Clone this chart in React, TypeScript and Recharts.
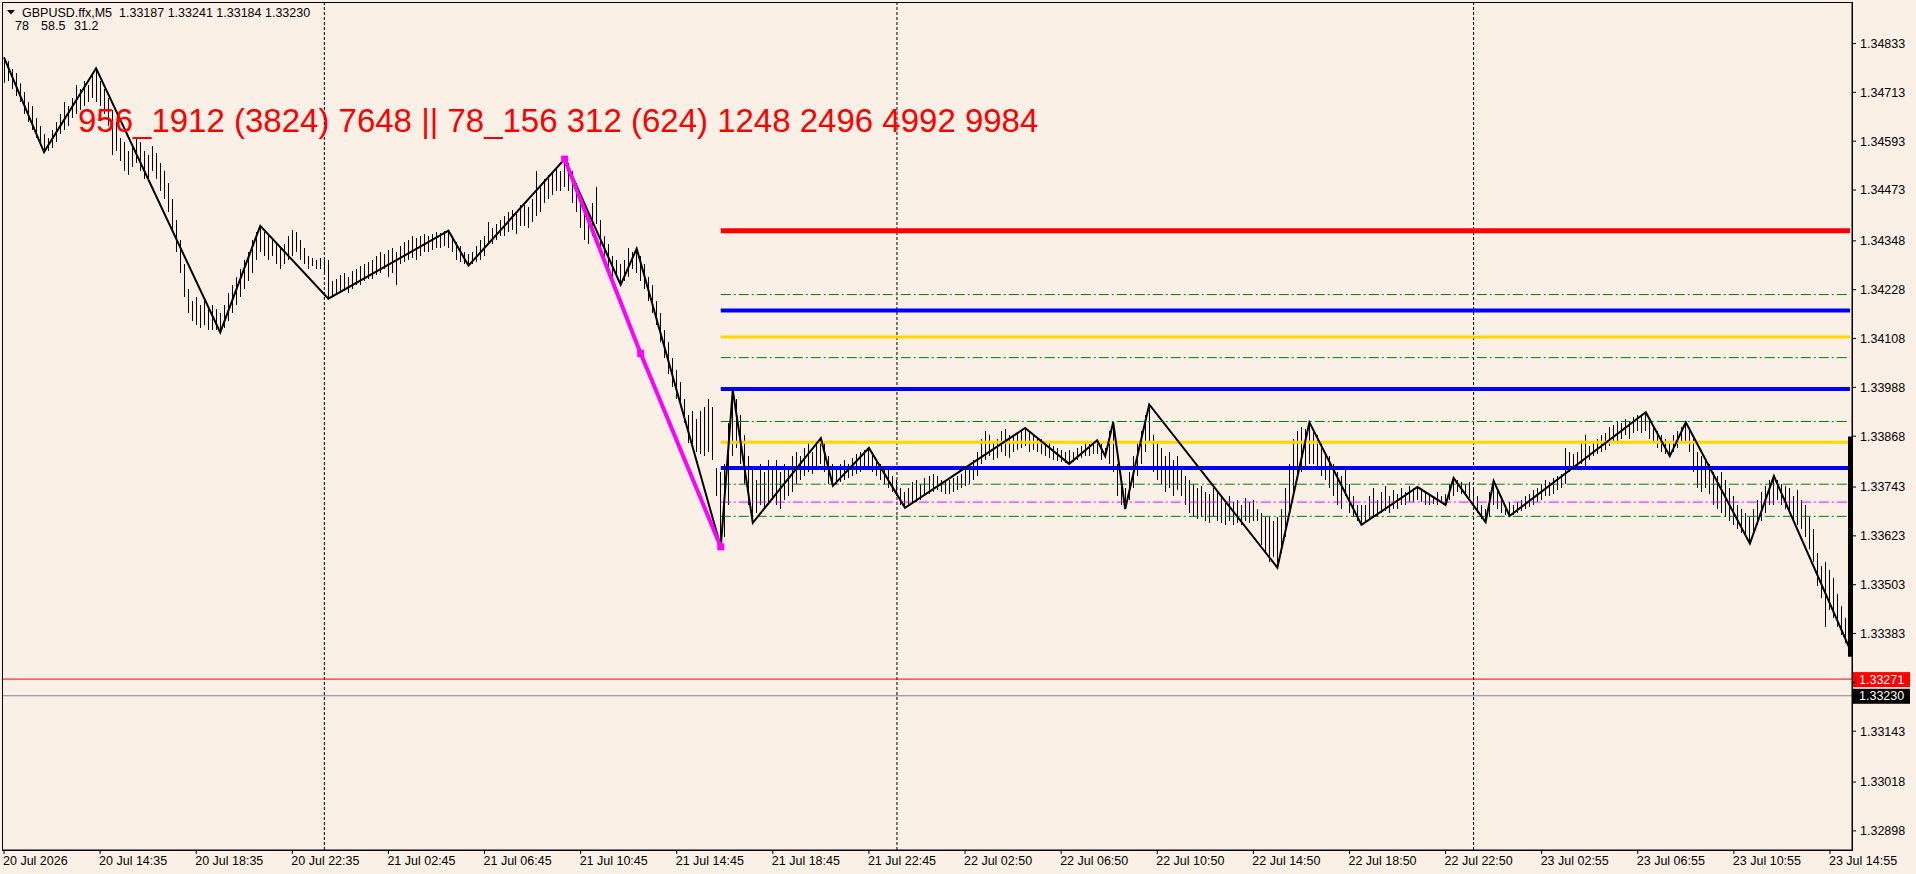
import React from "react";
import { ComposedChart, Bar, Line, XAxis, YAxis, ReferenceLine } from "recharts";

// prices are kept as points above 1.30000 (4833 -> 1.34833)
const BASE = 1.3;
const pt = (v: number) => BASE + v / 100000;

const timeLabels = [
  "20 Jul 2026", "20 Jul 14:35", "20 Jul 18:35", "20 Jul 22:35",
  "21 Jul 02:45", "21 Jul 06:45", "21 Jul 10:45", "21 Jul 14:45",
  "21 Jul 18:45", "21 Jul 22:45", "22 Jul 02:50", "22 Jul 06:50",
  "22 Jul 10:50", "22 Jul 14:50", "22 Jul 18:50", "22 Jul 22:50",
  "23 Jul 02:55", "23 Jul 06:55", "23 Jul 10:55", "23 Jul 14:55",
];
const BARS_PER_LABEL = 24;

const priceTicks = [
  4833, 4713, 4593, 4473, 4348, 4228, 4108, 3988, 3868, 3743, 3623, 3503,
  3383, 3263, 3143, 3018, 2898,
];
const hiddenTicks = [3263]; // covered by the price tags
const priceDomain = [2851, 4935];

// bar highs / lows, one bar per 10 minutes
const highs = [
  4799, 4790, 4770, 4760, 4735, 4715, 4690, 4680, 4650, 4630,
  4610, 4600, 4620, 4640, 4660, 4690, 4680, 4700, 4730, 4720,
  4740, 4730, 4755, 4772, 4740, 4720, 4700, 4670, 4640, 4600,
  4590, 4570, 4585, 4600, 4590, 4570, 4560, 4580, 4565, 4540,
  4520, 4490, 4450, 4400, 4350, 4290, 4230, 4200, 4210, 4190,
  4200, 4185, 4190, 4180, 4170, 4190, 4220, 4240, 4260, 4280,
  4300, 4320, 4350, 4370, 4385, 4370, 4360, 4350, 4340, 4330,
  4340, 4360, 4375, 4370, 4350, 4330, 4310, 4305, 4300, 4305,
  4300, 4300, 4250, 4255, 4265, 4270, 4260, 4275, 4280, 4285,
  4290, 4295, 4300, 4310, 4320, 4315, 4325, 4330, 4320, 4335,
  4345, 4350, 4360, 4355, 4360, 4365, 4360, 4365, 4370, 4368,
  4372, 4373, 4360, 4345, 4335, 4320, 4315, 4320, 4335, 4350,
  4360, 4395, 4380, 4390, 4400, 4410, 4420, 4425, 4415, 4435,
  4440, 4430, 4450, 4520, 4480, 4500, 4510, 4515, 4530, 4520,
  4549, 4540, 4520, 4490, 4460, 4430, 4420, 4440, 4480, 4400,
  4360, 4340, 4310, 4300, 4290, 4300, 4330, 4320, 4329, 4310,
  4290, 4260, 4240, 4200, 4170, 4130, 4100, 4060, 4030, 4000,
  3960, 3920, 3930, 3910, 3930, 3940, 3960, 3940, 3790, 3780,
  3800, 3900, 3981, 3960, 3920, 3870, 3820, 3790, 3760, 3800,
  3780, 3810, 3790, 3810, 3780, 3800, 3790, 3820, 3830, 3820,
  3840, 3850, 3830, 3855, 3863, 3850, 3820, 3800, 3790, 3800,
  3810, 3800, 3815, 3825, 3830, 3835, 3839, 3830, 3810, 3800,
  3795, 3790, 3770, 3760, 3740, 3730, 3740, 3755, 3760, 3750,
  3765, 3770, 3775, 3770, 3760, 3755, 3760, 3765, 3770, 3775,
  3785, 3795, 3810, 3830, 3860, 3880, 3870, 3850, 3860, 3880,
  3885, 3870, 3865, 3875, 3880, 3888, 3880, 3870, 3865, 3860,
  3855, 3850, 3845, 3840, 3835, 3830, 3835, 3830, 3840, 3845,
  3850, 3848, 3855, 3858, 3850, 3840, 3880, 3902, 3800, 3760,
  3740, 3780, 3820, 3850, 3880, 3920, 3946, 3870, 3850, 3840,
  3820, 3830, 3810, 3820, 3790, 3770, 3760, 3750, 3740, 3745,
  3730, 3725, 3740, 3735, 3720, 3710, 3720, 3705, 3710, 3700,
  3715, 3705, 3710, 3690, 3680, 3670, 3670, 3660, 3670, 3690,
  3740, 3800, 3860, 3880, 3890, 3885, 3902, 3880, 3870, 3850,
  3830, 3820, 3800, 3780, 3770, 3790, 3750, 3720, 3700, 3700,
  3700, 3720, 3740, 3710, 3730, 3745, 3720, 3735, 3725, 3740,
  3730, 3745, 3740, 3743, 3738, 3730, 3725, 3720, 3730, 3720,
  3725, 3750, 3765, 3760, 3755, 3750, 3755, 3740, 3720, 3700,
  3690, 3730, 3758, 3740, 3720, 3700, 3705, 3700, 3705, 3712,
  3720, 3725, 3735, 3740, 3750, 3760, 3755, 3765, 3770, 3775,
  3840, 3830, 3825, 3830, 3850, 3870, 3845, 3850, 3860, 3870,
  3875, 3890, 3895, 3905, 3900, 3910, 3905, 3915, 3920, 3918,
  3927, 3910, 3890, 3880, 3870, 3860, 3850, 3870, 3880, 3890,
  3902, 3890, 3860, 3830, 3820, 3810, 3800, 3780, 3770, 3780,
  3760, 3740, 3720, 3700, 3690, 3680, 3670, 3690, 3710, 3730,
  3745, 3760, 3770, 3760, 3750, 3745, 3740, 3720, 3735, 3710,
  3700, 3670, 3640, 3580, 3550, 3560, 3540, 3520, 3480, 3450,
  3420, 3400,
];

const lows = [
  4735, 4740, 4720, 4705, 4690, 4660, 4640, 4620, 4600, 4580,
  4566, 4570, 4575, 4590, 4610, 4620, 4630, 4650, 4660, 4670,
  4680, 4690, 4700, 4690, 4680, 4660, 4630, 4560, 4570, 4545,
  4520, 4510, 4530, 4540, 4520, 4500, 4495, 4520, 4500, 4470,
  4450, 4420, 4370, 4320, 4270, 4210, 4170, 4150, 4140, 4135,
  4140, 4130, 4128, 4130, 4123, 4135, 4150, 4170, 4190, 4210,
  4230, 4250, 4270, 4300, 4320, 4310, 4300, 4310, 4290, 4280,
  4290, 4300, 4310, 4320, 4300, 4290, 4280, 4285, 4280, 4280,
  4270, 4206, 4210, 4215, 4220, 4225, 4220, 4230, 4240, 4240,
  4250, 4255, 4255, 4265, 4270, 4280, 4260, 4270, 4240, 4290,
  4295, 4300, 4305, 4300, 4310, 4320, 4320, 4325, 4330, 4330,
  4335, 4330, 4320, 4300, 4295, 4292, 4287, 4290, 4295, 4300,
  4310, 4340, 4340, 4350, 4360, 4360, 4370, 4375, 4365, 4385,
  4385, 4380, 4395, 4410, 4420, 4440, 4450, 4460, 4470, 4470,
  4480, 4470, 4440, 4420, 4380, 4350, 4340, 4360, 4390, 4320,
  4290, 4270, 4250, 4260, 4240, 4250, 4260, 4280, 4270, 4250,
  4230, 4200, 4170, 4140, 4100, 4060, 4020, 3990, 3960, 3940,
  3900, 3850, 3840, 3830, 3825, 3820, 3830, 3810, 3720, 3596,
  3620, 3700, 3820, 3840, 3800, 3750, 3700, 3655, 3680, 3700,
  3690, 3700, 3710, 3700, 3690, 3710, 3720, 3730, 3750, 3760,
  3770, 3780, 3775, 3790, 3800, 3780, 3750, 3746, 3750, 3755,
  3760, 3765, 3770, 3775, 3780, 3790, 3790, 3780, 3770, 3760,
  3750, 3740, 3730, 3720, 3700, 3692, 3700, 3705, 3705, 3710,
  3720, 3725, 3730, 3735, 3730, 3725, 3725, 3730, 3735, 3740,
  3745, 3750, 3760, 3770, 3800, 3810, 3820, 3810, 3815, 3830,
  3820, 3815, 3830, 3835, 3840, 3845, 3830, 3835, 3830, 3825,
  3820, 3815, 3810, 3808, 3805, 3802, 3800, 3805, 3810, 3815,
  3820, 3820, 3825, 3825, 3810, 3819, 3800, 3780, 3720, 3700,
  3689, 3710, 3740, 3770, 3800, 3830, 3850, 3780, 3760, 3750,
  3730, 3740, 3720, 3735, 3720, 3700, 3680, 3670, 3665, 3670,
  3660, 3655, 3670, 3660, 3655, 3650, 3660, 3650, 3655, 3650,
  3660, 3655, 3660, 3660, 3600, 3580, 3560, 3570, 3545, 3580,
  3620, 3680, 3720, 3760, 3780, 3790, 3800, 3800, 3790, 3770,
  3760, 3740, 3720, 3700, 3690, 3720, 3680, 3670, 3660, 3650,
  3660, 3665, 3670, 3670, 3680, 3685, 3680, 3690, 3690, 3700,
  3700, 3705, 3705, 3710, 3705, 3700, 3700, 3702, 3700, 3705,
  3699, 3710, 3720, 3730, 3725, 3720, 3715, 3700, 3680, 3665,
  3657, 3670, 3700, 3690, 3680, 3675, 3672, 3675, 3680, 3685,
  3690, 3695, 3700, 3705, 3712, 3720, 3720, 3725, 3735, 3740,
  3750, 3780, 3790, 3795, 3800, 3795, 3810, 3820, 3825, 3830,
  3835, 3845, 3850, 3855, 3860, 3870, 3860, 3875, 3880, 3875,
  3880, 3860, 3850, 3840, 3830, 3825, 3819, 3830, 3840, 3850,
  3855, 3830, 3780, 3740, 3730, 3740, 3725, 3700, 3690, 3680,
  3670, 3660, 3650, 3640, 3630, 3620, 3604, 3630, 3650, 3660,
  3680, 3700, 3700, 3710, 3700, 3690, 3680, 3660, 3650, 3640,
  3620, 3590, 3560, 3500, 3470, 3400, 3440, 3420, 3400, 3380,
  3360, 3344,
];

// zigzag turning points (bar index, price)
const zigzagIdx = [
  0, 10, 23, 54, 64, 81, 111, 116, 140, 154, 158, 179, 182, 187, 204, 207,
  216, 225, 255, 266, 273, 275, 277, 280, 286, 318, 326, 339, 353, 360, 362,
  370, 372, 376, 410, 416, 420, 436, 442, 461,
];
const zigzagVal = [
  4799, 4566, 4772, 4123, 4385, 4206, 4373, 4287, 4549, 4240, 4329, 3596,
  3981, 3655, 3863, 3746, 3839, 3692, 3888, 3800, 3858, 3819, 3902, 3689,
  3946, 3545, 3902, 3650, 3743, 3699, 3765, 3657, 3758, 3672, 3927, 3819,
  3902, 3604, 3770, 3344,
];

// magenta swing leg
const swingIdx = [140, 159, 179];
const swingVal = [4549, 4071, 3596];

// horizontal levels drawn from the swing low to the last bar
const levelStart = 179;
const redLevels = [4373];
const blueLevels = [4177, 3984, 3790];
const goldLevels = [4112, 3853];
const greenLevels = [4216, 4061, 3904, 3750, 3671];
const magentaLevels = [3706];

const alertLine = 3271;
const bidLine = 3230;
const daySeparators = [80, 223, 367];
const lastBarRange = [3867, 3326];

const headerText = "GBPUSD.ffx,M5  1.33187 1.33241 1.33184 1.33230";
const headerParams = ["78", "58.5", "31.2"];
const bigLabel = "956_1912 (3824) 7648 || 78_156 312 (624) 1248 2496 4992 9984";

const FONT = "'Liberation Sans', Arial, sans-serif";
const BG = "#FAF0E6";
const LAST = highs.length - 1;

const zzMap = new Map(zigzagIdx.map((x, k) => [x, zigzagVal[k]]));
const swMap = new Map(swingIdx.map((x, k) => [x, swingVal[k]]));

const rows = highs.map((h, i) => ({
  i,
  range: [pt(lows[i]), pt(h)],
  zz: zzMap.has(i) ? pt(zzMap.get(i) as number) : null,
  sw: swMap.has(i) ? pt(swMap.get(i) as number) : null,
}));

const tickIdx = timeLabels.map((_, k) => k * BARS_PER_LABEL);

function Stick(props: any) {
  const { x, y, width, height } = props;
  if (x == null || y == null) return null;
  const cx = Math.floor(x + width / 2) + 0.5;
  const top = Math.min(y, y + height);
  const bot = Math.max(y, y + height, top + 1);
  return (
    <line x1={cx} x2={cx} y1={top} y2={bot} stroke="#000" strokeWidth={1} shapeRendering="crispEdges" />
  );
}

function SquareDot(props: any) {
  const { cx, cy, index } = props;
  if (cy == null || cx == null) return <g key={index} />;
  return <rect key={index} x={cx - 3.5} y={cy - 3.5} width={7} height={7} fill="#FF00FF" />;
}

function TimeTick(props: any) {
  const { x, y, payload } = props;
  const k = tickIdx.indexOf(payload.value);
  return (
    <text x={x - 1} y={y} dy="0.71em" textAnchor="start" fontSize={12.5} fontFamily={FONT} fill="#000">
      {timeLabels[k]}
    </text>
  );
}

function PriceTag(props: any) {
  const { viewBox, bg, text } = props;
  if (!viewBox) return null;
  const x = viewBox.x + viewBox.width + 1;
  const y = viewBox.y;
  return (
    <g>
      <rect x={x} y={y - 7} width={57} height={15} fill={bg} />
      <text x={x + 6} y={y} dy="0.36em" fill="#fff" fontSize={12.5} fontFamily={FONT}>
        {text}
      </text>
    </g>
  );
}

function level(v: number, color: string, width: number, dash?: string) {
  return (
    <ReferenceLine
      key={`${color}-${v}`}
      segment={[
        { x: levelStart, y: pt(v) },
        { x: LAST, y: pt(v) },
      ]}
      stroke={color}
      strokeWidth={width}
      strokeDasharray={dash}
    />
  );
}

export default function App() {
  return (
    <div style={{ position: "absolute", left: 0, top: 0, width: 1916, height: 874, background: BG, overflow: "hidden" }}>
      <ComposedChart
        width={1916}
        height={874}
        data={rows}
        margin={{ top: 2, right: 0, bottom: 0, left: 2 }}
        barCategoryGap={0}
        barGap={0}
      >
        <XAxis
          dataKey="i"
          type="category"
          ticks={tickIdx}
          interval={0}
          height={24}
          tickSize={4}
          tickMargin={2}
          axisLine={{ stroke: "#000" }}
          tickLine={{ stroke: "#000" }}
          tick={<TimeTick />}
        />
        <YAxis
          orientation="right"
          width={64}
          type="number"
          domain={[pt(priceDomain[0]), pt(priceDomain[1])]}
          allowDataOverflow
          ticks={priceTicks.map(pt)}
          tickFormatter={(v: number) =>
            hiddenTicks.some((h) => Math.abs(pt(h) - v) < 1e-7) ? "" : v.toFixed(5)
          }
          tickSize={4}
          tickMargin={4}
          axisLine={{ stroke: "#000" }}
          tickLine={{ stroke: "#000" }}
          tick={{ fontSize: 12.5, fontFamily: FONT, fill: "#000" }}
        />
        {daySeparators.map((d) => (
          <ReferenceLine key={`sep-${d}`} x={d} stroke="#000" strokeDasharray="3 2" />
        ))}
        <Bar dataKey="range" shape={<Stick />} isAnimationActive={false} />
        {greenLevels.map((v) => level(v, "#008000", 1, "10 3 2 3"))}
        {magentaLevels.map((v) => level(v, "#FF00FF", 1, "10 3 2 3"))}
        {goldLevels.map((v) => level(v, "#FFD700", 3))}
        {blueLevels.map((v) => level(v, "#0000FF", 4))}
        {redLevels.map((v) => level(v, "#FF0000", 5))}
        <ReferenceLine
          y={pt(alertLine)}
          stroke="#FF0000"
          strokeWidth={1}
          label={<PriceTag bg="#FF0000" text={pt(alertLine).toFixed(5)} />}
        />
        <ReferenceLine
          y={pt(bidLine)}
          stroke="#778899"
          strokeWidth={1}
          label={<PriceTag bg="#000000" text={pt(bidLine).toFixed(5)} />}
        />
        <Line
          dataKey="zz"
          type="linear"
          stroke="#000"
          strokeWidth={2}
          dot={false}
          connectNulls
          isAnimationActive={false}
        />
        <Line
          dataKey="sw"
          type="linear"
          stroke="#FF00FF"
          strokeWidth={4}
          dot={<SquareDot />}
          activeDot={false}
          connectNulls
          isAnimationActive={false}
        />
        <ReferenceLine
          segment={[
            { x: LAST, y: pt(lastBarRange[0]) },
            { x: LAST, y: pt(lastBarRange[1]) },
          ]}
          stroke="#000"
          strokeWidth={4}
        />
      </ComposedChart>
      <div
        style={{
          position: "absolute",
          left: 2,
          top: 2,
          width: 1851,
          height: 849,
          boxSizing: "border-box",
          border: "1px solid #000",
          pointerEvents: "none",
        }}
      />
      <svg width={1916} height={160} style={{ position: "absolute", left: 0, top: 0, pointerEvents: "none" }}>
        <polygon points="7,10 15,10 11,14.5" fill="#000" />
        <text x={22} y={17} fontSize={12.5} fontFamily={FONT} fill="#000" style={{ whiteSpace: "pre" }}>
          {headerText}
        </text>
        {headerParams.map((t, k) => (
          <text key={t} x={[15, 41, 74][k]} y={30} fontSize={12.5} fontFamily={FONT} fill="#000">
            {t}
          </text>
        ))}
        <text x={78} y={132} fontSize={33} fontFamily={FONT} fill="#FF0000">
          {bigLabel}
        </text>
      </svg>
    </div>
  );
}
